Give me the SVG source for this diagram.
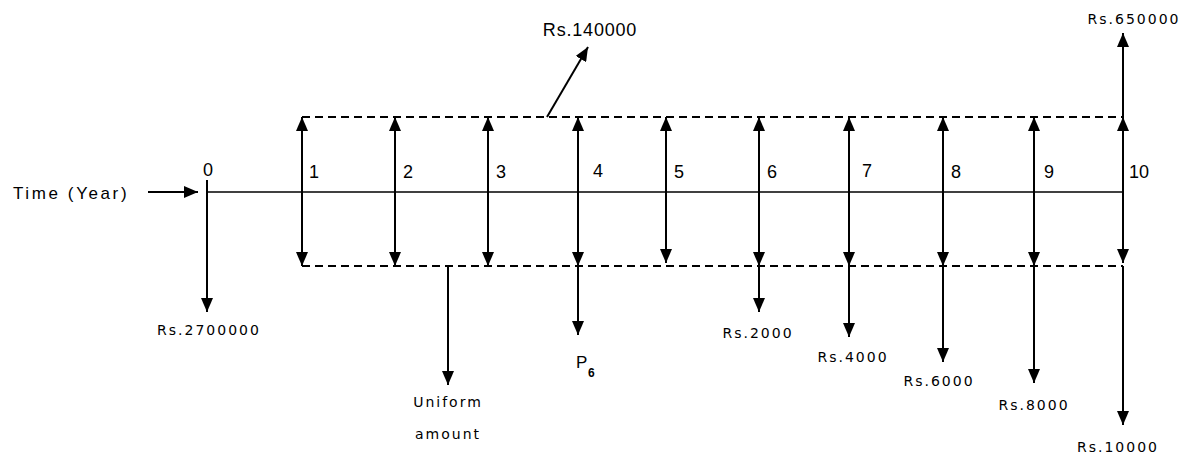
<svg xmlns="http://www.w3.org/2000/svg" width="1196" height="457" viewBox="0 0 1196 457">
<style>
.ln{stroke:#000;stroke-width:2;fill:none}
.ax{stroke:#000;stroke-width:1.6;fill:none}
.dash{stroke:#000;stroke-width:2;fill:none;stroke-dasharray:8 5}
.ar{marker-end:url(#ah)}
.dbl{marker-end:url(#ah);marker-start:url(#ah)}
.lbl{font-family:"DejaVu Sans","Liberation Sans",sans-serif;font-size:14px;letter-spacing:2px;fill:#000;text-anchor:middle}
.num{font-family:"Liberation Sans",Arial,sans-serif;font-size:18px;fill:#000}
.big{font-family:"Liberation Sans",Arial,sans-serif;font-size:18px;fill:#000;text-anchor:middle;letter-spacing:0.8px}
</style>
<defs>
<marker id="ah" markerUnits="userSpaceOnUse" markerWidth="14" markerHeight="12" refX="14" refY="6" orient="auto-start-reverse">
<path d="M0,0 L14,6 L0,12 z" fill="#000"/>
</marker>
</defs>
<rect width="1196" height="457" fill="#fff"/>
<g id="connectors">
<line class="ax" x1="207" y1="192" x2="1123" y2="192"/>
<line class="ln ar" x1="148" y1="192" x2="198" y2="192"/>
<line class="ln ar" x1="207" y1="180" x2="207" y2="312"/>
<line class="dash" x1="302" y1="117" x2="1123" y2="117"/>
<line class="dash" x1="302" y1="266" x2="1123" y2="266"/>
<line class="ln dbl" x1="302" y1="266" x2="302" y2="117"/>
<line class="ln dbl" x1="395" y1="266" x2="395" y2="117"/>
<line class="ln dbl" x1="488" y1="266" x2="488" y2="117"/>
<line class="ln dbl" x1="578" y1="266" x2="578" y2="117"/>
<line class="ln dbl" x1="666" y1="263" x2="666" y2="117"/>
<line class="ln dbl" x1="759" y1="266" x2="759" y2="117"/>
<line class="ln dbl" x1="849" y1="266" x2="849" y2="117"/>
<line class="ln dbl" x1="943" y1="266" x2="943" y2="117"/>
<line class="ln dbl" x1="1034" y1="266" x2="1034" y2="117"/>
<line class="ln dbl" x1="1123" y1="263" x2="1123" y2="117"/>
<line class="ln ar" x1="1123" y1="117" x2="1123" y2="33"/>
<line class="ln ar" x1="547" y1="117" x2="588" y2="47"/>
<line class="ln ar" x1="448" y1="266" x2="448" y2="385"/>
<line class="ln ar" x1="578" y1="266" x2="578" y2="335"/>
<line class="ln ar" x1="759" y1="266" x2="759" y2="312"/>
<line class="ln ar" x1="849" y1="266" x2="849" y2="337"/>
<line class="ln ar" x1="943" y1="266" x2="943" y2="362"/>
<line class="ln ar" x1="1034" y1="266" x2="1034" y2="383"/>
<line class="ln ar" x1="1123" y1="266" x2="1123" y2="425"/>
</g>
<g id="time-label"><text class="num" x="13" y="199" style="letter-spacing:2.6px;font-size:17px">Time (Year)</text></g>
<g id="ticks">
<text class="num" x="203" y="176">0</text>
<text class="num" x="309" y="178">1</text>
<text class="num" x="403" y="178">2</text>
<text class="num" x="496" y="178">3</text>
<text class="num" x="593" y="177">4</text>
<text class="num" x="674" y="178">5</text>
<text class="num" x="767" y="178">6</text>
<text class="num" x="862" y="177">7</text>
<text class="num" x="951" y="178">8</text>
<text class="num" x="1044" y="178">9</text>
<text class="num" x="1129" y="178">10</text>
</g>
<g id="rs140000"><text class="big" x="590" y="36">Rs.140000</text></g>
<g id="rs650000"><text class="lbl" x="1134" y="24">Rs.650000</text></g>
<g id="rs2700000"><text class="lbl" x="209" y="335">Rs.2700000</text></g>
<g id="uniform"><text class="lbl" x="448" y="407">Uniform</text><text class="lbl" x="448" y="439">amount</text></g>
<g id="p6"><text class="num" x="576" y="368" style="font-size:17px">P</text><text class="num" x="588" y="377" style="font-size:12px;font-weight:bold">6</text></g>
<g id="rs2000"><text class="lbl" x="758" y="338">Rs.2000</text></g>
<g id="rs4000"><text class="lbl" x="853" y="362">Rs.4000</text></g>
<g id="rs6000"><text class="lbl" x="939" y="386">Rs.6000</text></g>
<g id="rs8000"><text class="lbl" x="1034" y="410">Rs.8000</text></g>
<g id="rs10000"><text class="lbl" x="1118" y="452">Rs.10000</text></g>
</svg>
